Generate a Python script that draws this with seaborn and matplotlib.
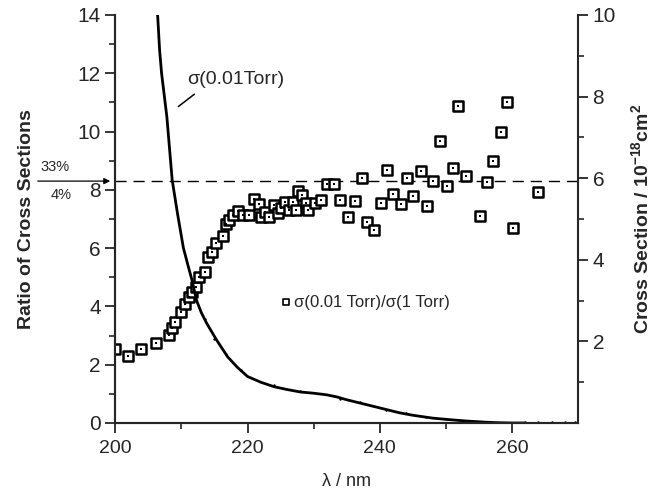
import numpy as np
import pandas as pd
import matplotlib
matplotlib.use("Agg")
import matplotlib.pyplot as plt
import seaborn as sns

# ratio sigma(0.01 Torr)/sigma(1 Torr), left axis
ratio_wl = [200.0, 201.9, 203.9, 206.1, 208.1, 208.6, 209.1, 209.9, 210.5, 211.1,
            211.6, 212.2, 212.7, 213.6, 214.0, 214.6, 215.2, 216.3, 216.7, 217.2,
            217.8, 218.6, 219.3, 220.2, 221.0, 221.7, 222.1, 222.7, 223.3, 224.0,
            224.6, 225.1, 225.6, 226.3, 226.9, 227.4, 227.7, 228.3, 228.8, 229.2,
            230.2, 231.1, 232.0, 233.1, 234.0, 235.2, 236.3, 237.3, 238.1, 239.2,
            240.2, 241.1, 242.0, 243.2, 244.1, 245.1, 246.3, 247.2, 248.1, 249.2,
            250.2, 251.1, 251.9, 253.1, 255.2, 256.3, 257.2, 258.3, 259.3, 260.1,
            264.0]
ratio_vals = [2.54, 2.30, 2.54, 2.75, 3.02, 3.26, 3.47, 3.81, 4.09, 4.33,
              4.50, 4.67, 5.02, 5.19, 5.70, 5.88, 6.19, 6.43, 6.84, 6.98,
              7.15, 7.29, 7.15, 7.15, 7.70, 7.53, 7.08, 7.25, 7.08, 7.49,
              7.22, 7.39, 7.59, 7.32, 7.59, 7.32, 7.97, 7.83, 7.56, 7.32,
              7.56, 7.66, 8.21, 8.21, 7.66, 7.08, 7.63, 8.42, 6.91, 6.63,
              7.56, 8.69, 7.87, 7.53, 8.42, 7.80, 8.66, 7.46, 8.32, 9.66,
              8.14, 8.76, 10.89, 8.46, 7.11, 8.28, 9.00, 9.97, 11.00, 6.70,
              7.94]

# cross section at 0.01 Torr (10^-18 cm^2), right axis
cs_wl = [206.0, 206.4, 206.7, 207.0, 207.8, 208.6, 209.4, 210.3, 211.0, 211.6,
         212.3, 213.0, 213.8, 215.3, 217.0, 218.5, 220.0, 222.0, 224.0, 226.0,
         228.0, 230.0, 232.0, 233.5, 235.0, 237.0, 240.0, 243.0, 245.0, 248.0,
         250.0, 253.0, 256.0, 258.0, 260.0, 262.0]
cs_vals = [10.71, 10.0, 9.14, 8.57, 7.5, 5.96, 5.14, 4.29, 3.86, 3.5,
           3.0, 2.71, 2.45, 2.04, 1.62, 1.36, 1.14, 1.0, 0.89, 0.82,
           0.76, 0.73, 0.69, 0.64, 0.57, 0.49, 0.37, 0.25, 0.19, 0.12,
           0.09, 0.05, 0.02, 0.007, 0.0, 0.0]

# scattered measured points along the curve
dot_wl = [213.5, 215.0, 216.8, 219.0, 224.0, 228.0, 234.0, 237.0, 241.0, 244.0,
          247.0, 250.0, 262.0, 264.0, 266.0, 268.0, 269.5]
dot_vals = [2.55, 2.05, 1.70, 1.30, 0.92, 0.78, 0.60, 0.52, 0.33, 0.24,
            0.14, 0.10, 0.03, 0.02, 0.03, 0.02, 0.03]

limit_ratio = 8.3

sns.set_theme(style="ticks")
plt.rcParams['font.family'] = ['Liberation Sans', 'DejaVu Sans']
plt.rcParams['mathtext.default'] = 'regular'

fig = plt.figure(figsize=(6.59, 4.91), dpi=100)
ax = fig.add_axes([0.175, 0.1385, 0.702, 0.831])
ax2 = ax.twinx()

df_ratio = pd.DataFrame({'wl': ratio_wl, 'ratio': ratio_vals})
sns.scatterplot(data=df_ratio, x='wl', y='ratio', marker='s', s=44, color='white',
                edgecolor='black', linewidth=1.8, ax=ax, zorder=3)
sns.scatterplot(data=df_ratio, x='wl', y='ratio', marker='s', s=2, color='black',
                linewidth=0, ax=ax, zorder=4)

df_cs = pd.DataFrame({'wl': cs_wl, 'cs': cs_vals})
sns.lineplot(data=df_cs, x='wl', y='cs', color='black', lw=2, sort=False, ax=ax2)
sns.scatterplot(x=dot_wl, y=dot_vals, color='black', s=3, linewidth=0, ax=ax2)

ax.axhline(limit_ratio, color='black', lw=1, ls=(0, (8, 5)))

ax.set_xlim(200, 270)
ax.set_ylim(0, 14)
ax2.set_ylim(0, 10)
ax.set_xticks([200, 220, 240, 260])
ax.set_xticks([210, 230, 250], minor=True)
ax.set_yticks(np.arange(0, 15, 2))
ax.set_yticks(np.arange(1, 14, 2), minor=True)
ax2.set_yticks([2, 4, 6, 8, 10])
ax2.set_yticks([1, 3, 5, 7, 9], minor=True)

for a in (ax, ax2):
    a.spines['top'].set_visible(False)
    for s in a.spines.values():
        s.set_linewidth(1.5)
    a.tick_params(which='major', direction='out', length=7, width=1.3, labelsize=15)
    a.tick_params(which='minor', direction='out', length=4, width=1.2)
ax.tick_params(axis='x', labelsize=14, pad=5)
ax.spines['right'].set_visible(False)

ax.set_xlabel('λ / nm', fontsize=13, labelpad=12)
ax.set_ylabel('Ratio of Cross Sections', fontsize=14, fontweight='bold')
ax.yaxis.set_label_coords(-0.174, 0.5)
ax2.set_ylabel('Cross Section / 10$^{-18}$cm$^2$', fontsize=14, fontweight='bold')
ax2.yaxis.set_label_coords(1.112, 0.5)

# labels inside the plot
ax.text(210.8, 11.8, 'σ(0.01Torr)', fontsize=14, va='center', ha='left')
ax.annotate('', xy=(209.2, 10.8), xytext=(212.3, 11.34),
            arrowprops=dict(arrowstyle='-', lw=1.1, color='black'))
ax.scatter([225.9], [4.15], marker='s', s=20, facecolor='white', edgecolor='black',
           linewidth=1.2, zorder=3)
ax.text(227.0, 4.15, 'σ(0.01 Torr)/σ(1 Torr)', fontsize=12, va='center', ha='left')

# arrow marking the limit line, outside the axes
ax.annotate('', xy=(-0.005, limit_ratio), xycoords=('axes fraction', 'data'),
            xytext=(-78, 0), textcoords='offset pixels',
            arrowprops=dict(arrowstyle='-|>', lw=0.9, color='black', mutation_scale=9),
            annotation_clip=False)
fig.text(0.084, 0.66, '33%', fontsize=10.5, ha='center', va='center')
fig.text(0.092, 0.603, '4%', fontsize=10.5, ha='center', va='center')

fig.savefig('out.png', dpi=100)
